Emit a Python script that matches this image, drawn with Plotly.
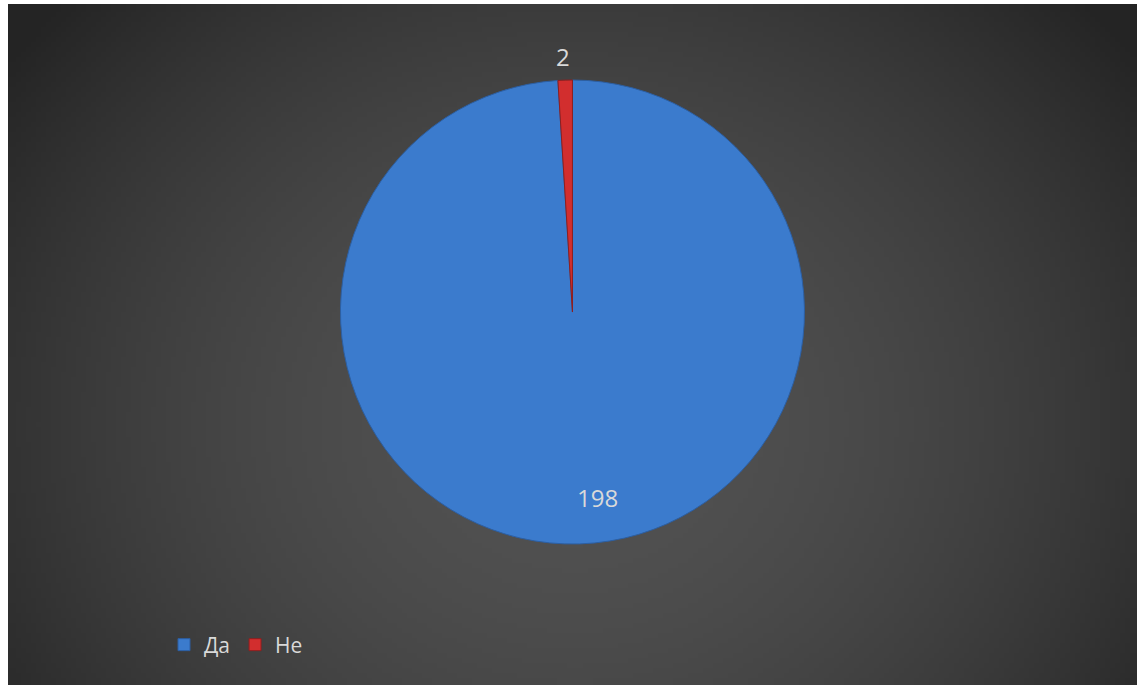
import base64, struct, zlib
import plotly.graph_objects as go

# ---- data ----
labels = ["Да", "Не"]
values = [198, 2]
colors = ["#3b7bcd", "#d22e2e"]
line_colors = ["#2c5fa3", "#8e1f1f"]

W, H = 1139, 685

# ---- background radial gradient (style only) ----
def make_png(w, h, cx, cy, rx, ry):
    rows = []
    for j in range(h):
        row = bytearray([0])
        for i in range(w):
            dx = (i + 0.5 - cx) / rx
            dy = (j + 0.5 - cy) / ry
            t = min(1.0, (dx * dx + dy * dy) ** 0.5)
            c = int(round(82 - 46 * t ** 1.8))
            row += bytes([c, c, c])
        rows.append(bytes(row))
    raw = b"".join(rows)
    def chunk(tag, data):
        return struct.pack(">I", len(data)) + tag + data + struct.pack(">I", zlib.crc32(tag + data) & 0xffffffff)
    png = b"\x89PNG\r\n\x1a\n"
    png += chunk(b"IHDR", struct.pack(">IIBBBBB", w, h, 8, 2, 0, 0, 0))
    png += chunk(b"IDAT", zlib.compress(raw, 9))
    png += chunk(b"IEND", b"")
    return "data:image/png;base64," + base64.b64encode(png).decode()

s = 5
bw, bh = (1137 - 8) // s, (685 - 4) // s
bg = make_png(bw, bh, 564 / s, 420 / s, 700 / s, 620 / s)

fig = go.Figure()
fig.add_trace(go.Pie(
    labels=labels,
    values=values,
    sort=False,
    direction="clockwise",
    rotation=0,
    textinfo="none",
    hoverinfo="label+value",
    marker=dict(colors=colors, line=dict(color=line_colors, width=1)),
    domain=dict(x=[0.5026 - 0.21, 0.5026 + 0.21], y=[0.2058, 0.8832]),
    showlegend=True,
))

label_pos = [(597, 497), (563, 57)]
for v, (px, py) in zip(values, label_pos):
    fig.add_annotation(
        text=str(v), x=px / W, y=1 - py / H, xref="paper", yref="paper",
        showarrow=False, xanchor="center", yanchor="middle",
        font=dict(family="Open Sans", size=24, color="#d9d9d9"),
    )

fig.update_layout(
    width=W, height=H,
    margin=dict(l=0, r=0, t=0, b=0),
    paper_bgcolor="white",
    plot_bgcolor="rgba(0,0,0,0)",
    images=[dict(
        source=bg, xref="paper", yref="paper",
        x=8 / W, y=1 - 4 / H, sizex=(1137 - 8) / W, sizey=(685 - 4) / H,
        xanchor="left", yanchor="top", sizing="stretch", layer="below",
    )],
    legend=dict(
        orientation="h", x=164 / W, y=1 - 645 / H, xanchor="left", yanchor="middle",
        font=dict(family="Open Sans", size=21, color="#d9d9d9"),
        bgcolor="rgba(0,0,0,0)", itemclick=False,
    ),
)

fig.write_html("out.html", config={"displayModeBar": False},
               post_script="document.body.style.margin='0px';")
